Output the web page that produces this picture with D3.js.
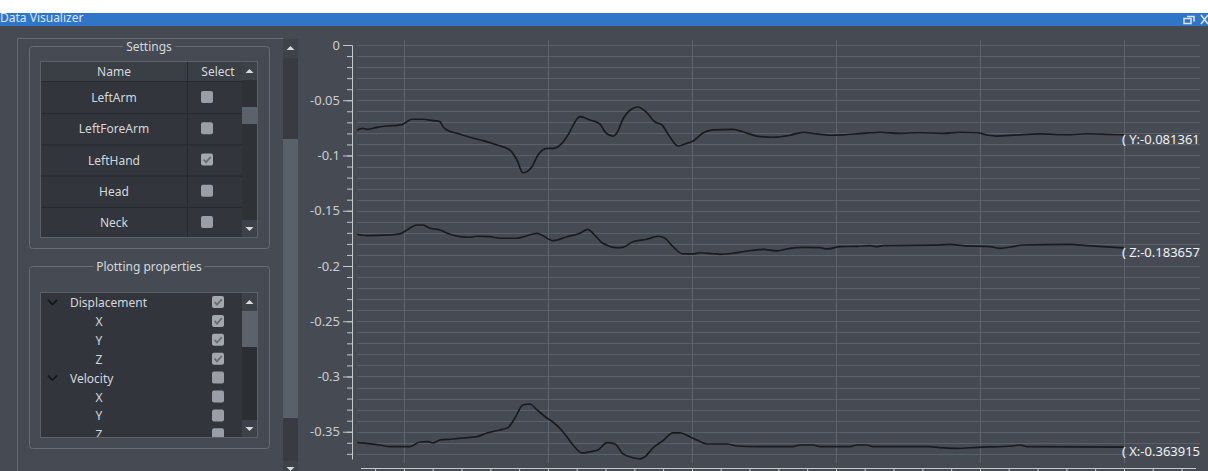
<!DOCTYPE html>
<html>
<head>
<meta charset="utf-8">
<script src="https://cdn.jsdelivr.net/npm/d3@7"></script>
<style>
  html, body { margin: 0; padding: 0; background: #fff; overflow: hidden; }
  svg { display: block; font-family: "Noto Sans", "Open Sans", sans-serif; }
</style>
</head>
<body>
<script>
// ---- data: [time (s), displacement] ----
const dispY = [
  [0.674,-0.0769],[0.715,-0.0754],[0.743,-0.0763],[0.813,-0.0745],[0.882,-0.0733],[0.951,-0.0727],
  [0.986,-0.0721],[1.021,-0.0694],[1.056,-0.0672],[1.132,-0.0672],[1.201,-0.0685],[1.250,-0.0694],
  [1.271,-0.0739],[1.299,-0.0769],[1.368,-0.0799],[1.458,-0.0835],[1.549,-0.0866],[1.646,-0.0905],
  [1.736,-0.0950],[1.785,-0.1041],[1.826,-0.1156],[1.889,-0.1101],[1.931,-0.0995],[1.993,-0.0935],
  [2.035,-0.0935],[2.097,-0.0890],[2.139,-0.0814],[2.222,-0.0649],[2.292,-0.0679],[2.361,-0.0715],
  [2.396,-0.0787],[2.451,-0.0824],[2.479,-0.0796],[2.521,-0.0670],[2.583,-0.0579],[2.625,-0.0561],
  [2.688,-0.0615],[2.743,-0.0697],[2.792,-0.0724],[2.847,-0.0833],[2.903,-0.0914],[2.951,-0.0896],
  [3.007,-0.0869],[3.076,-0.0796],[3.146,-0.0769],[3.285,-0.0763],[3.354,-0.0785],[3.451,-0.0824],
  [3.563,-0.0835],[3.681,-0.0817],[3.771,-0.0790],[3.868,-0.0805],[3.958,-0.0817],[4.049,-0.0814],
  [4.188,-0.0799],[4.306,-0.0790],[4.444,-0.0799],[4.583,-0.0794],[4.743,-0.0799],[4.861,-0.0790],
  [4.979,-0.0794],[5.049,-0.0814],[5.118,-0.0824],[5.257,-0.0814],[5.417,-0.0805],[5.604,-0.0812],
  [5.743,-0.0803],[5.882,-0.0808],[6.000,-0.081361]
]
const dispZ = [
  [0.674,-0.1713],[0.743,-0.1726],[0.903,-0.1719],[0.972,-0.1710],[1.021,-0.1674],[1.090,-0.1629],
  [1.132,-0.1629],[1.181,-0.1659],[1.250,-0.1674],[1.319,-0.1713],[1.389,-0.1735],[1.458,-0.1740],
  [1.507,-0.1731],[1.597,-0.1735],[1.667,-0.1749],[1.785,-0.1749],[1.854,-0.1726],[1.924,-0.1704],
  [1.965,-0.1726],[2.035,-0.1771],[2.132,-0.1735],[2.222,-0.1704],[2.278,-0.1668],[2.313,-0.1704],
  [2.382,-0.1795],[2.479,-0.1834],[2.521,-0.1831],[2.590,-0.1780],[2.688,-0.1758],[2.764,-0.1731],
  [2.813,-0.1749],[2.868,-0.1825],[2.938,-0.1891],[3.007,-0.1891],[3.056,-0.1880],[3.146,-0.1889],
  [3.194,-0.1894],[3.285,-0.1885],[3.354,-0.1871],[3.493,-0.1849],[3.590,-0.1864],[3.681,-0.1840],
  [3.771,-0.1831],[3.889,-0.1834],[3.938,-0.1846],[4.028,-0.1825],[4.146,-0.1822],[4.236,-0.1816],
  [4.285,-0.1825],[4.326,-0.1816],[4.674,-0.1812],[4.792,-0.1805],[4.882,-0.1816],[5.069,-0.1825],
  [5.139,-0.1840],[5.229,-0.1825],[5.299,-0.1810],[5.625,-0.1805],[5.743,-0.1816],[5.854,-0.1825],
  [6.000,-0.183657]
]
const dispX = [
  [0.674,-0.3599],[0.833,-0.3620],[0.903,-0.3635],[1.042,-0.3635],[1.111,-0.3593],[1.167,-0.3590],
  [1.201,-0.3602],[1.250,-0.3575],[1.340,-0.3566],[1.410,-0.3557],[1.507,-0.3545],[1.576,-0.3511],
  [1.667,-0.3484],[1.722,-0.3463],[1.771,-0.3376],[1.826,-0.3258],[1.875,-0.3249],[1.924,-0.3303],
  [1.993,-0.3376],[2.035,-0.3412],[2.104,-0.3500],[2.174,-0.3620],[2.236,-0.3692],[2.292,-0.3681],
  [2.347,-0.3665],[2.410,-0.3599],[2.465,-0.3611],[2.521,-0.3701],[2.569,-0.3726],[2.639,-0.3745],
  [2.674,-0.3726],[2.729,-0.3647],[2.799,-0.3581],[2.868,-0.3511],[2.917,-0.3511],[2.986,-0.3545],
  [3.035,-0.3575],[3.104,-0.3611],[3.243,-0.3611],[3.313,-0.3629],[3.451,-0.3635],[3.701,-0.3635],
  [3.750,-0.3620],[3.840,-0.3620],[3.889,-0.3635],[4.097,-0.3635],[4.146,-0.3620],[4.215,-0.3620],
  [4.257,-0.3635],[4.653,-0.3635],[4.722,-0.3644],[4.840,-0.3650],[4.979,-0.3641],[5.229,-0.3629],
  [5.278,-0.3620],[5.326,-0.3635],[6.000,-0.363915]
]
const series = [
  { name: "Y", data: dispY, tip: "( Y:-0.081361" },
  { name: "Z", data: dispZ, tip: "( Z:-0.183657" },
  { name: "X", data: dispX, tip: "( X:-0.363915" }
]

const yMajorTicks = [0, -0.05, -0.1, -0.15, -0.2, -0.25, -0.3, -0.35]
const yTickLabels = ["0", "-0.05", "-0.1", "-0.15", "-0.2", "-0.25", "-0.3", "-0.35"]
const xGridTicks = [1, 2, 3, 4, 5, 6]

const jointNames = ["LeftArm", "LeftForeArm", "LeftHand", "Head", "Neck"]
const jointSelected = [false, false, true, false, false]

const propLabels = ["Displacement", "X", "Y", "Z", "Velocity", "X", "Y", "Z"]
const propLevels = [0, 1, 1, 1, 0, 1, 1, 1]
const propChecked = [true, true, true, true, false, false, false, false]

// ---- colours ----
const bg = "#464b53"
const cell = "#32363c"
const sep = "#26292e"
const frame = "#676d76"
const txt = "#d4d8dc"
const axisCol = "#c4c8cd"
const gridCol = "#5a6069"

const W = 1208, H = 471
const svg = d3.select("body").append("svg").attr("width", W).attr("height", H)

svg.append("rect").attr("width", W).attr("height", H).attr("fill", bg)
svg.append("rect").attr("width", W).attr("height", 13).attr("fill", "#ffffff")

// title bar
svg.append("rect").attr("y", 13).attr("width", W).attr("height", 13).attr("fill", "#2f76c8")
svg.append("text")
  .attr("x", 0).attr("y", 22)
  .attr("font-size", 12).attr("fill", "#dce6f3")
  .text("Data Visualizer")
const icons = svg.append("g").attr("stroke", "#dfe5ec").attr("fill", "none").attr("stroke-width", 1.5)
icons.append("rect").attr("x", 1184).attr("y", 18.5).attr("width", 7).attr("height", 5)
icons.append("path").attr("d", "M1187,16.5 H1194 V21.5")
icons.append("path").attr("d", "M1201,15 L1208,24 M1208,15 L1201,24")

// ---- left panel ----
const left = svg.append("g")
left.append("path").attr("d", "M17.5,471 V38.5 H283").attr("fill", "none").attr("stroke", frame)

function arrow(g, cx, cy, up) {
  const d = up ? `M${cx - 4},${cy + 2} L${cx + 4},${cy + 2} L${cx},${cy - 2} Z`
               : `M${cx - 4},${cy - 2} L${cx + 4},${cy - 2} L${cx},${cy + 2} Z`
  g.append("path").attr("d", d).attr("fill", "#d6dade")
}

function checkbox(g, x0, y0, checked) {
  g.append("rect").attr("x", x0).attr("y", y0).attr("width", 12).attr("height", 12)
    .attr("rx", 2).attr("fill", checked ? "#a3a8af" : "#9a9fa7")
  if (checked) {
    g.append("path").attr("d", `M${x0 + 2.5},${y0 + 6} L${x0 + 5},${y0 + 8.7} L${x0 + 9.8},${y0 + 3.3}`)
      .attr("fill", "none").attr("stroke", "#676c74").attr("stroke-width", 1.8)
  }
}

function scrollbar(g, x0, y0, h, thumbY, thumbH, trackCol) {
  g.append("rect").attr("x", x0).attr("y", y0).attr("width", 15).attr("height", h).attr("fill", trackCol)
  g.append("rect").attr("x", x0).attr("y", y0).attr("width", 15).attr("height", 18).attr("fill", "#3d4249")
  g.append("rect").attr("x", x0).attr("y", y0 + h - 18).attr("width", 15).attr("height", 18).attr("fill", "#3d4249")
  g.append("rect").attr("x", x0).attr("y", thumbY).attr("width", 15).attr("height", thumbH).attr("fill", "#5c626b")
  arrow(g, x0 + 7.5, y0 + 9, true)
  arrow(g, x0 + 7.5, y0 + h - 9, false)
}

function groupBox(g, x0, y0, w, h, title, tw) {
  g.append("rect").attr("x", x0 + 0.5).attr("y", y0 + 0.5).attr("width", w).attr("height", h)
    .attr("rx", 3).attr("fill", "none").attr("stroke", frame)
  const cx = x0 + w / 2
  g.append("rect").attr("x", cx - tw / 2 - 3).attr("y", y0 - 6).attr("width", tw + 6).attr("height", 12).attr("fill", bg)
  g.append("text").attr("x", cx).attr("y", y0 + 4.5).attr("text-anchor", "middle")
    .attr("font-size", 12).attr("fill", txt).text(title)
}

// main scrollbar of the panel
const msb = left.append("g")
msb.append("rect").attr("x", 283).attr("y", 39).attr("width", 15).attr("height", 432).attr("fill", "#383c42")
msb.append("rect").attr("x", 283).attr("y", 39).attr("width", 15).attr("height", 19).attr("fill", "#3e434a")
msb.append("rect").attr("x", 283).attr("y", 139).attr("width", 15).attr("height", 279).attr("fill", "#5a6069")
msb.append("rect").attr("x", 283).attr("y", 461).attr("width", 15).attr("height", 12).attr("fill", "#3e434a")
arrow(msb, 290.5, 48, true)
arrow(msb, 290.5, 469, false)

// Settings group
groupBox(left, 29, 46, 240, 202, "Settings", 47)
const tbl = left.append("g")
tbl.append("rect").attr("x", 40).attr("y", 61).attr("width", 218).attr("height", 177).attr("fill", cell)
tbl.append("rect").attr("x", 40).attr("y", 61).attr("width", 202).attr("height", 21).attr("fill", "#3a3e45")
tbl.append("line").attr("x1", 40).attr("x2", 242).attr("y1", 81.5).attr("y2", 81.5).attr("stroke", sep)
tbl.append("line").attr("x1", 187.5).attr("x2", 187.5).attr("y1", 61).attr("y2", 238).attr("stroke", sep)
tbl.append("text").attr("x", 114).attr("y", 75.5).attr("text-anchor", "middle").attr("font-size", 12).attr("fill", txt).text("Name")
tbl.append("text").attr("x", 218).attr("y", 75.5).attr("text-anchor", "middle").attr("font-size", 12).attr("fill", txt).text("Select")
const rowH = 31.2
jointNames.forEach((name, i) => {
  const top = 82 + i * rowH
  if (i > 0) tbl.append("line").attr("x1", 40).attr("x2", 242).attr("y1", top + 0.5).attr("y2", top + 0.5).attr("stroke", sep)
  tbl.append("text").attr("x", 114).attr("y", top + rowH / 2 + 4.5).attr("text-anchor", "middle")
    .attr("font-size", 12).attr("fill", txt).text(name)
  checkbox(tbl, 201, top + rowH / 2 - 6.5, jointSelected[i])
})
scrollbar(tbl, 242, 62, 176, 107, 17, "#2e3237")
tbl.append("rect").attr("x", 40.5).attr("y", 61.5).attr("width", 217).attr("height", 176)
  .attr("fill", "none").attr("stroke", "#5b6169")

// Plotting properties group
groupBox(left, 29, 266, 240, 182, "Plotting properties", 105)
const tree = left.append("g")
tree.append("defs").append("clipPath").attr("id", "treeclip")
  .append("rect").attr("x", 40).attr("y", 292).attr("width", 202).attr("height", 146)
tree.append("rect").attr("x", 40).attr("y", 292).attr("width", 218).attr("height", 146).attr("fill", cell)
const rows = tree.append("g").attr("clip-path", "url(#treeclip)")
propLabels.forEach((label, i) => {
  const cy = 302.5 + i * 18.9
  if (propLevels[i] === 0) {
    rows.append("path").attr("d", `M${48},${cy - 2.5} L${52.5},${cy + 2} L${57},${cy - 2.5}`)
      .attr("fill", "none").attr("stroke", "#15171a").attr("stroke-width", 1.8)
    rows.append("text").attr("x", 70).attr("y", cy + 4.5).attr("font-size", 12).attr("fill", txt).text(label)
  } else {
    rows.append("text").attr("x", 99).attr("y", cy + 4.5).attr("text-anchor", "middle")
      .attr("font-size", 12).attr("fill", txt).text(label)
  }
  checkbox(rows, 212, cy - 6.5, propChecked[i])
})
scrollbar(tree, 242, 293, 145, 311, 36, "#2b2f34")
tree.append("rect").attr("x", 40.5).attr("y", 292.5).attr("width", 217).attr("height", 145)
  .attr("fill", "none").attr("stroke", "#5b6169")

// ---- chart ----
const x = d3.scaleLinear().domain([0.674, 6.528]).range([357, 1200])
const y = d3.scaleLinear().domain([0, -0.3745]).range([45, 458.8])

const chart = svg.append("g")

// horizontal grid every 0.01
chart.append("g").selectAll("line")
  .data(d3.range(0, 38).map(i => -i / 100))
  .join("line")
    .attr("x1", 357).attr("x2", 1200)
    .attr("y1", d => Math.round(y(d)) + 0.5).attr("y2", d => Math.round(y(d)) + 0.5)
    .attr("stroke", gridCol)

// vertical grid
chart.append("g").selectAll("line")
  .data(xGridTicks)
  .join("line")
    .attr("x1", d => Math.round(x(d)) + 0.5).attr("x2", d => Math.round(x(d)) + 0.5)
    .attr("y1", 40).attr("y2", 463)
    .attr("stroke", "#5d646d")

// y axis
const yAxisMinor = d3.axisLeft(y)
  .tickValues(d3.range(0, 38).map(i => -i / 100))
  .tickSize(5).tickSizeOuter(0).tickFormat("")
const yAxisMajor = d3.axisLeft(y)
  .tickValues(yMajorTicks).tickSize(9).tickSizeOuter(0).tickPadding(3)
  .tickFormat((d, i) => yTickLabels[i])

const ga1 = chart.append("g").attr("transform", "translate(352,0)").call(yAxisMinor)
const ga2 = chart.append("g").attr("transform", "translate(352,0)").call(yAxisMajor)
;[ga1, ga2].forEach(g => {
  g.selectAll(".domain").attr("stroke", axisCol)
  g.selectAll(".tick line").attr("stroke", axisCol)
})
ga2.selectAll(".tick text").attr("fill", "#c9cdd2").attr("font-size", 13)
  .attr("font-family", "'Noto Sans', sans-serif")

// x axis along the bottom edge (labels fall outside the window)
const xAxis = d3.axisBottom(x).tickValues(d3.range(4, 33).map(i => i / 5)).tickSize(4).tickSizeOuter(0).tickFormat("")
const gx = chart.append("g").attr("transform", "translate(0,468.5)").call(xAxis)
gx.select(".domain").remove()
gx.selectAll(".tick line").attr("stroke", axisCol)
gx.append("line").attr("x1", 361).attr("x2", 1196).attr("stroke", axisCol)

// lines
const line = d3.line().x(d => x(d[0])).y(d => y(d[1])).curve(d3.curveMonotoneX)
chart.append("g").selectAll("path")
  .data(series)
  .join("path")
    .attr("d", d => line(d.data))
    .attr("fill", "none")
    .attr("stroke", "#191b1f")
    .attr("stroke-width", 1.7)
    .attr("stroke-linejoin", "round")

// end-point readouts
chart.append("g").selectAll("text")
  .data(series)
  .join("text")
    .attr("x", d => x(d.data[d.data.length - 1][0]) - 2)
    .attr("y", d => y(d.data[d.data.length - 1][1]) + 9)
    .attr("font-size", 13)
    .attr("fill", "#eef1f4")
    .attr("font-family", "'Noto Sans', sans-serif")
    .text(d => d.tip)
</script>
</body>
</html>
